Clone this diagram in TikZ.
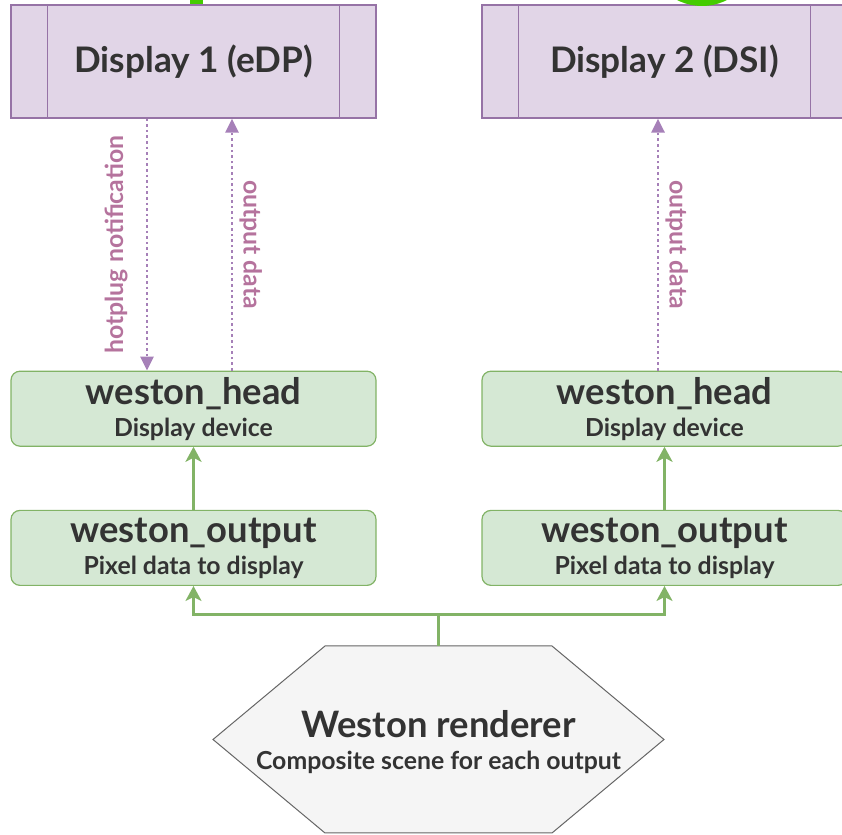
\documentclass[tikz,border=0pt]{standalone}
\usepackage{fontspec}
\setmainfont{Lato}
\usetikzlibrary{arrows.meta,positioning}
\definecolor{procfill}{HTML}{E1D5E7}
\definecolor{procline}{HTML}{9673A6}
\definecolor{blkfill}{HTML}{D5E8D4}
\definecolor{blkline}{HTML}{82B366}
\definecolor{sigline}{HTML}{A680B8}
\definecolor{siglabel}{HTML}{B5739D}
\definecolor{rendfill}{HTML}{F5F5F5}
\definecolor{rendline}{HTML}{666666}
\definecolor{txt}{HTML}{333333}
\definecolor{feed}{HTML}{44CC00}
\newcommand{\ttlfont}{\fontsize{18.2}{16}\selectfont\bfseries}
\newcommand{\subfont}{\fontsize{12.4}{16}\selectfont\bfseries}

\begin{document}
\begin{tikzpicture}[x=0.5pt, y=0.5pt,
  disp/.style={rectangle, draw=procline, fill=procfill, line width=0.6pt,
               minimum width=182.5pt, minimum height=56.5pt, text=txt,
               font=\fontsize{17.6}{18}\selectfont\bfseries},
  blk/.style={rectangle, draw=blkline, fill=blkfill, line width=0.6pt,
              rounded corners=4.5pt, minimum width=182.5pt, minimum height=37.5pt,
              align=center, text=txt, inner sep=0pt, font=\subfont},
  sig/.style={-{Triangle[length=7pt, width=6.5pt]}, color=sigline, line width=1.4pt,
              dash pattern=on 1.3pt off 1.5pt},
  siglbl/.style={text=siglabel, font=\fontsize{12.4}{14}\selectfont\bfseries},
  flow/.style={-{Stealth[length=7.5pt, width=8pt, inset=2pt]}, color=blkline, line width=1.5pt},
  node distance=126pt
]
\useasboundingbox (0,0) rectangle (842,835);
\clip (0,0) rectangle (842,835);

% displays
\node[disp] (disp1) at (193.5,773.5) {Display 1 (eDP)};
\node[disp] (disp2) at (664.5,773.5) {Display 2 (DSI)};
\foreach \d in {disp1,disp2} {
  \draw[procline, line width=0.6pt] ([xshift=18.5pt]\d.north west) -- ([xshift=18.5pt]\d.south west);
  \draw[procline, line width=0.6pt] ([xshift=-18.5pt]\d.north east) -- ([xshift=-18.5pt]\d.south east);
}

% bits coming in from above
\coordinate[above=20pt of disp1.north, xshift=1.5pt] (feed1);
\draw[feed, line width=6.5pt] (feed1) -- ([xshift=1.5pt]disp1.north);
\node[circle, fill=feed, minimum size=55pt, inner sep=0pt] (vsync) at (702,884) {};

% heads and outputs
\node[blk, below=of disp1] (head1) {{\ttlfont weston\_head}\\Display device};
\node[blk, below=of disp2] (head2) {{\ttlfont weston\_head}\\Display device};
\node[blk, below=31.5pt of head1] (out1) {{\ttlfont weston\_output}\\Pixel data to display};
\node[blk, below=31.5pt of head2] (out2) {{\ttlfont weston\_output}\\Pixel data to display};

% renderer
\draw[rendline, fill=rendfill, line width=0.5pt]
  (213,95.5) -- (325,189) -- (552,189) -- (664,95.5) -- (552,2) -- (325,2) -- cycle;
\coordinate (rendtop) at (438.5,189);
\node[align=center, text=txt, font=\subfont] (rend) at (438.5,93)
  {{\fontsize{18.2}{16}\selectfont\bfseries Weston renderer}\\Composite scene for each output};

% signals
\draw[sig] ([xshift=-23.25pt]disp1.south) -- ([xshift=-23.25pt]head1.north)
  node[midway, siglbl, rotate=90, anchor=south, inner ysep=9pt] {hotplug notification};
\draw[sig] ([xshift=19.25pt]head1.north) -- ([xshift=19.25pt]disp1.south)
  node[midway, siglbl, rotate=-90, anchor=south, inner ysep=3pt] {output data};
\draw[sig] ([xshift=-3.25pt]head2.north) -- ([xshift=-3.25pt]disp2.south)
  node[midway, siglbl, rotate=-90, anchor=south, inner ysep=3pt] {output data};

\draw[flow] (out1) -- (head1);
\draw[flow] (out2) -- (head2);
\draw[flow] (rendtop) -- ++(0,31) -| (out1.south);
\draw[flow] (rendtop) -- ++(0,31) -| (out2.south);
\end{tikzpicture}
\end{document}
